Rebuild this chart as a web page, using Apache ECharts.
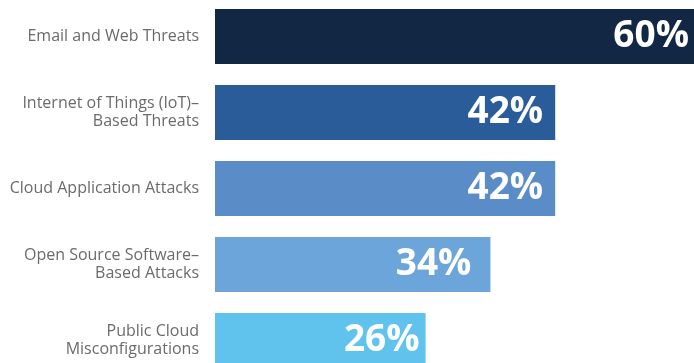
<!DOCTYPE html>
<html>
<head>
<meta charset="utf-8">
<script src="https://cdn.jsdelivr.net/npm/echarts@6/dist/echarts.min.js"></script>
<style>
html,body{margin:0;padding:0;background:#fff;}
#chart{width:694px;height:363px;}
</style>
</head>
<body>
<div id="chart"></div>
<script>
const categories = [
  "Email and Web Threats",
  "Internet of Things (IoT)–\nBased Threats",
  "Cloud Application Attacks",
  "Open Source Software–\nBased Attacks",
  "Public Cloud\nMisconfigurations"
];
const values = [60, 42, 42, 34, 26];
const barColors = ["#122744", "#2a5c9a", "#5a8dc8", "#6ca5d9", "#5fc3ee"];
const labelShift = [0, 0, 0, -7, 6];

const chart = echarts.init(document.getElementById('chart'), null, {renderer: 'canvas'});
chart.setOption({
  animation: false,
  grid: {left: 215, top: -1.5, width: 810, height: 380, outerBoundsMode: 'none', containLabel: false},
  xAxis: {
    type: 'value', min: 0, max: 100,
    show: false
  },
  yAxis: {
    type: 'category',
    inverse: true,
    data: categories,
    axisLine: {show: false},
    axisTick: {show: false},
    splitLine: {show: false},
    axisLabel: {
      margin: 16,
      color: '#6b6b6b',
      fontFamily: 'Open Sans',
      fontSize: 16,
      lineHeight: 18,
      align: 'right'
    }
  },
  series: [{
    type: 'bar',
    barWidth: 55,
    clip: false,
    data: values.map((v, i) => ({
      value: v,
      itemStyle: {color: barColors[i]},
      label: {offset: [labelShift[i], 0]}
    })),
    label: {
      show: true,
      position: 'insideRight',
      distance: 12,
      formatter: '{c}%',
      color: '#ffffff',
      fontFamily: 'Open Sans',
      fontWeight: 'bold',
      fontSize: 37
    }
  }]
});
</script>
</body>
</html>
